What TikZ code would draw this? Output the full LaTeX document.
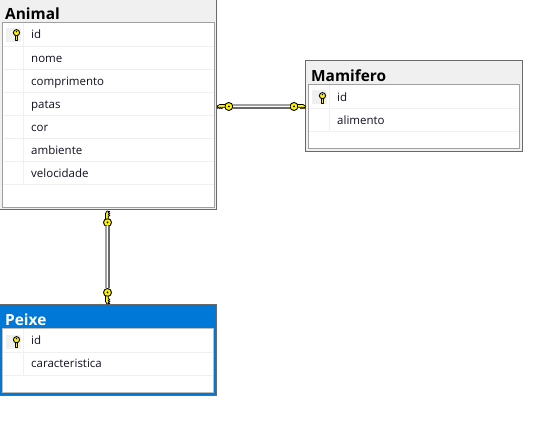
\documentclass[tikz,border=0pt]{standalone}
\usepackage{fontspec}
\setmainfont{Open Sans}
\definecolor{hdr}{HTML}{F0F0F0}
\definecolor{edge}{HTML}{696969}
\definecolor{inedge}{HTML}{A0A0A0}
\definecolor{sep}{HTML}{F0F0F0}
\definecolor{sel}{HTML}{0078D7}
\definecolor{keyy}{HTML}{FFF200}
\definecolor{ink}{HTML}{101020}
\tikzset{
  tablebox/.style={draw=edge,line width=1pt,fill=hdr,anchor=north west,inner sep=0pt,outer sep=0pt},
  selbox/.style={tablebox,fill=sel},
  gridbox/.style={draw=inedge,line width=1pt,fill=white,anchor=north west,inner sep=0pt,outer sep=0pt},
  selgrid/.style={gridbox,draw=inedge!70},
  sepline/.style={draw=sep,line width=1pt},
  keybg/.style={fill=hdr,draw=none,anchor=north west,inner sep=0pt,minimum width=15pt,minimum height=14pt},
  title/.style={anchor=base west,inner sep=0pt,font=\fontsize{15.4pt}{18pt}\selectfont\bfseries,text=black},
  rowtext/.style={anchor=base west,inner sep=0pt,font=\fontsize{11.5pt}{14pt}\selectfont,text=ink},
  keyhead/.style={circle,draw=black,fill=keyy,line width=.9pt,minimum size=8pt,inner sep=0pt,outer sep=0pt},
  keypart/.style={draw=black,fill=keyy,line width=.8pt,line join=round},
  rail/.style={line width=1.5pt},
  pkkey/.pic={
    \draw[keypart,line width=.9pt] (-1.2,2) -- (-1.2,7.5) -- (1.4,7.5) -- (1.4,6.2) -- (0.5,6.2) -- (0.5,5.2) -- (1.4,5.2) -- (1.4,3.8) -- (1.2,3.8) -- (1.2,2) -- cycle;
    \draw[keypart,line width=.9pt] (0,-.3) circle (3.1pt);
    \fill[black] (0,-1.4) circle (.8pt);
  },
  relteeth/.pic={
    \draw[keypart,line width=.7pt] (-.5,-2) -- (5,-2) -- (7.5,-.5) -- (7,2.2) -- (6,.6) -- (5,2.4) -- (4,.6) -- (3,2.4) -- (2,.8) -- (-.5,.8) -- cycle;
  }
}
\begin{document}
\begin{tikzpicture}[x=1pt,y=-1pt]
\useasboundingbox (0,0) rectangle (557,427);
\clip (0,0) rectangle (557,427);
\fill[white] (0,0) rectangle (557,427);

% Animal
\node[tablebox,minimum width=216.5pt,minimum height=221pt] (animal) at (-0.5,-11) {};
\node[gridbox,minimum width=211.5pt,minimum height=185.5pt] (animalgrid) at (2.5,22.5) {};
\foreach \y in {46.5,69.5,92.5,115.5,138.5,161.5,184.5}
  \draw[sepline] (3,\y) -- (213.5,\y);
\draw[sepline] (23.5,23) -- (23.5,184.5);
\node[keybg] (animalkeybg) at (6,28) {};
\pic at (16.5,33) {pkkey};
\node[title] (animalT) at (5,19.5) {Animal};
\node[rowtext] (a1) at (31,39) {id};
\node[rowtext] (a2) at (31,63) {nome};
\node[rowtext] (a3) at (31,86) {comprimento};
\node[rowtext] (a4) at (31,109) {patas};
\node[rowtext] (a5) at (31,132) {cor};
\node[rowtext] (a6) at (31,155) {ambiente};
\node[rowtext] (a7) at (31,178) {velocidade};

% Mamifero
\node[tablebox,minimum width=216.5pt,minimum height=91.5pt] (mamifero) at (305.5,60.5) {};
\node[gridbox,minimum width=211pt,minimum height=64.5pt] (mamgrid) at (308.5,84.5) {};
\foreach \y in {108.5,131.5}
  \draw[sepline] (309,\y) -- (519,\y);
\draw[sepline] (329.5,85) -- (329.5,131.5);
\node[keybg] (mamkeybg) at (312,90) {};
\pic at (322.5,96) {pkkey};
\node[title] (mamT) at (311,81.5) {Mamifero};
\node[rowtext] (m1) at (337,102) {id};
\node[rowtext] (m2) at (337,125) {alimento};

% Peixe
\node[selbox,minimum width=217pt,minimum height=91.5pt] (peixe) at (-0.5,304.5) {};
\node[selgrid,minimum width=211pt,minimum height=64.5pt] (peixegrid) at (2.5,328.5) {};
\foreach \y in {352.5,375.5}
  \draw[sepline] (3,\y) -- (213,\y);
\draw[sepline] (23.5,329) -- (23.5,375.5);
\node[keybg] (peixekeybg) at (6,335) {};
\pic at (16.5,340) {pkkey};
\node[title,text=white] (peixeT) at (5,325.5) {Peixe};
\node[rowtext] (p1) at (31,345) {id};
\node[rowtext] (p2) at (31,368) {caracteristica};

% relationship keys
\node[keyhead] (k1) at (228.8,106.5) {};
\node[keyhead] (k2) at (294,106.5) {};
\node[keyhead] (k3) at (107.5,222.5) {};
\node[keyhead] (k4) at (107.5,292.5) {};
\pic[xscale=-1] at (k1.west) {relteeth};
\pic at (k2.east) {relteeth};
\pic[rotate=90] at (k3.north) {relteeth};
\pic[rotate=-90,yscale=-1] at (k4.south) {relteeth};
\foreach \k in {k1,k2,k3,k4} \fill[black] (\k) circle (1pt);

% relationships
\draw[line width=5pt,draw=inedge] (k1.east) -- (k2.west);
\draw[rail,draw=white] (k1.east) -- (k2.west);
\draw[rail,draw=edge] ([yshift=-1.7pt]k1.east) -- ([yshift=-1.7pt]k2.west);
\draw[line width=5pt,draw=inedge] (k3.south) -- (k4.north);
\draw[rail,draw=white] (k3.south) -- (k4.north);
\draw[rail,draw=edge] ([xshift=1.7pt]k3.south) -- ([xshift=1.7pt]k4.north);
\end{tikzpicture}
\end{document}
